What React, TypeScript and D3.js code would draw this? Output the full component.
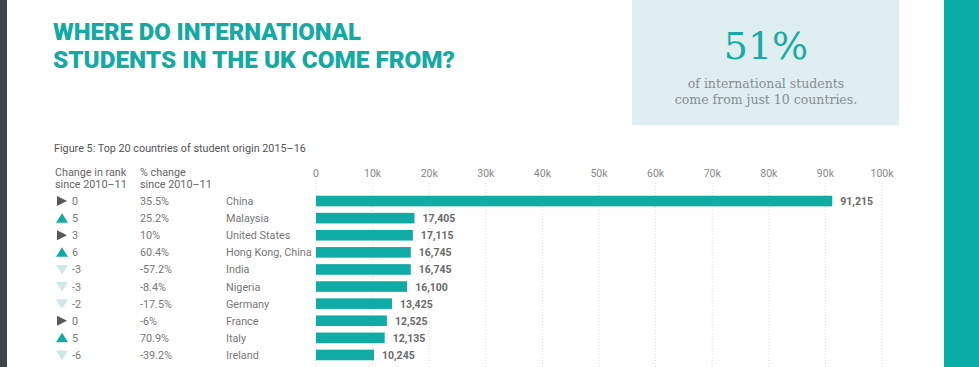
import React, { useEffect, useRef } from 'react';
import * as d3 from 'd3';

const countries = ['China', 'Malaysia', 'United States', 'Hong Kong, China', 'India', 'Nigeria', 'Germany', 'France', 'Italy', 'Ireland'];
const students = [91215, 17405, 17115, 16745, 16745, 16100, 13425, 12525, 12135, 10245];
const rankChange = [0, 5, 3, 6, -3, -3, -2, 0, 5, -6];
const rankDir = ['same', 'up', 'same', 'up', 'down', 'down', 'down', 'same', 'up', 'down'];
const pctChange = ['35.5%', '25.2%', '10%', '60.4%', '-57.2%', '-8.4%', '-17.5%', '-6%', '70.9%', '-39.2%'];
const xTicks = [0, 10000, 20000, 30000, 40000, 50000, 60000, 70000, 80000, 90000, 100000];

const TEAL = '#11aba5';
const FONT = 'Roboto, "Open Sans", sans-serif';

const App = () => {
  const svgRef = useRef<SVGSVGElement>(null);

  useEffect(() => {
    const width = 979;
    const height = 367;
    const svg = d3.select(svgRef.current).attr('width', width).attr('height', height);
    svg.selectAll('*').remove();

    svg.append('rect').attr('width', width).attr('height', height).attr('fill', '#fff');
    // page edges
    svg.append('rect').attr('x', 0).attr('y', 0).attr('width', 7).attr('height', height).attr('fill', '#3f4447');
    svg.append('rect').attr('x', 944).attr('y', 0).attr('width', 35).attr('height', height).attr('fill', '#0aaca6');

    // title
    const title = svg.append('text').attr('fill', '#14a9a3').style('font-family', FONT)
      .style('font-weight', 900).style('font-size', '23px');
    title.append('tspan').attr('x', 53).attr('y', 40).attr('textLength', 308).attr('lengthAdjust', 'spacingAndGlyphs').text('WHERE DO INTERNATIONAL');
    title.append('tspan').attr('x', 53).attr('y', 68).attr('textLength', 402).attr('lengthAdjust', 'spacingAndGlyphs').text('STUDENTS IN THE UK COME FROM?');

    // callout box
    svg.append('rect').attr('x', 632).attr('y', 0).attr('width', 267).attr('height', 125).attr('fill', '#dfeef0');
    svg.append('text').attr('x', 766).attr('y', 59).attr('text-anchor', 'middle')
      .style('font-family', '"DejaVu Serif", serif').style('font-size', '38px').attr('fill', '#1aa9a4').text('51%');
    svg.append('text').attr('x', 766).attr('y', 88).attr('text-anchor', 'middle')
      .style('font-family', '"DejaVu Serif", serif').style('font-size', '12.5px').attr('fill', '#858f91').text('of international students');
    svg.append('text').attr('x', 766).attr('y', 104).attr('text-anchor', 'middle')
      .style('font-family', '"DejaVu Serif", serif').style('font-size', '12.5px').attr('fill', '#858f91').text('come from just 10 countries.');

    svg.append('text').attr('x', 54).attr('y', 152).style('font-family', FONT).style('font-size', '10.8px')
      .attr('fill', '#555').text('Figure 5: Top 20 countries of student origin 2015–16');

    const hdr = (x: number, lines: string[]) => {
      lines.forEach((l, i) => svg.append('text').attr('x', x).attr('y', 175.5 + i * 12.5)
        .style('font-family', FONT).style('font-size', '10.8px').attr('fill', '#666').text(l));
    };
    hdr(55, ['Change in rank', 'since 2010–11']);
    hdr(140, ['% change', 'since 2010–11']);

    const x = d3.scaleLinear().domain([0, 100000]).range([316, 882]);
    const y = d3.scaleBand().domain(countries).range([192.5, 363.5]).paddingInner(0.38).paddingOuter(0.19);

    const grid = svg.append('g');
    grid.selectAll('line').data(xTicks).enter().append('line')
      .attr('x1', d => x(d)).attr('x2', d => x(d)).attr('y1', 183).attr('y2', height)
      .attr('stroke', '#dcdcdc').attr('stroke-width', 1).attr('stroke-dasharray', '1,2');
    grid.selectAll('text').data(xTicks).enter().append('text')
      .attr('x', d => x(d)).attr('y', 176.5).attr('text-anchor', 'middle')
      .style('font-family', FONT).style('font-size', '10.5px').attr('fill', '#888')
      .text(d => (d === 0 ? '0' : `${d / 1000}k`));

    const rows = svg.append('g').selectAll('g').data(countries).enter().append('g');
    const cy = (d: string) => (y(d) as number) + y.bandwidth() / 2;

    rows.append('rect').attr('x', x(0)).attr('y', d => y(d) as number)
      .attr('width', (d, i) => x(students[i]) - x(0)).attr('height', y.bandwidth()).attr('fill', TEAL);
    rows.append('text').attr('x', (d, i) => x(students[i]) + 8).attr('y', d => cy(d) + 4)
      .style('font-family', FONT).style('font-size', '10.5px').style('font-weight', 700).attr('fill', '#6a6a6a')
      .text((d, i) => d3.format(',')(students[i]));

    rows.append('text').attr('x', 226).attr('y', d => cy(d) + 4)
      .style('font-family', FONT).style('font-size', '10.8px').attr('fill', '#777').text(d => d);
    rows.append('text').attr('x', 140).attr('y', d => cy(d) + 4)
      .style('font-family', FONT).style('font-size', '10.8px').attr('fill', '#777').text((d, i) => pctChange[i]);
    rows.append('text').attr('x', 72).attr('y', d => cy(d) + 4)
      .style('font-family', FONT).style('font-size', '10.8px').attr('fill', '#777').text((d, i) => String(rankChange[i]));

    rows.append('path').attr('transform', d => `translate(62,${cy(d)})`)
      .attr('d', (d, i) => {
        if (rankDir[i] === 'up') return 'M-6,4.5L0,-5L6,4.5Z';
        if (rankDir[i] === 'down') return 'M-6,-4.5L6,-4.5L0,5Z';
        return 'M-5,-5L5,0L-5,5Z';
      })
      .attr('fill', (d, i) => (rankDir[i] === 'up' ? TEAL : rankDir[i] === 'down' ? '#cfe6ea' : '#595959'));
  }, []);

  return (
    <div style={{ position: 'absolute', left: 0, top: 0 }}>
      <svg ref={svgRef} style={{ display: 'block' }}></svg>
    </div>
  );
};

export default App;
